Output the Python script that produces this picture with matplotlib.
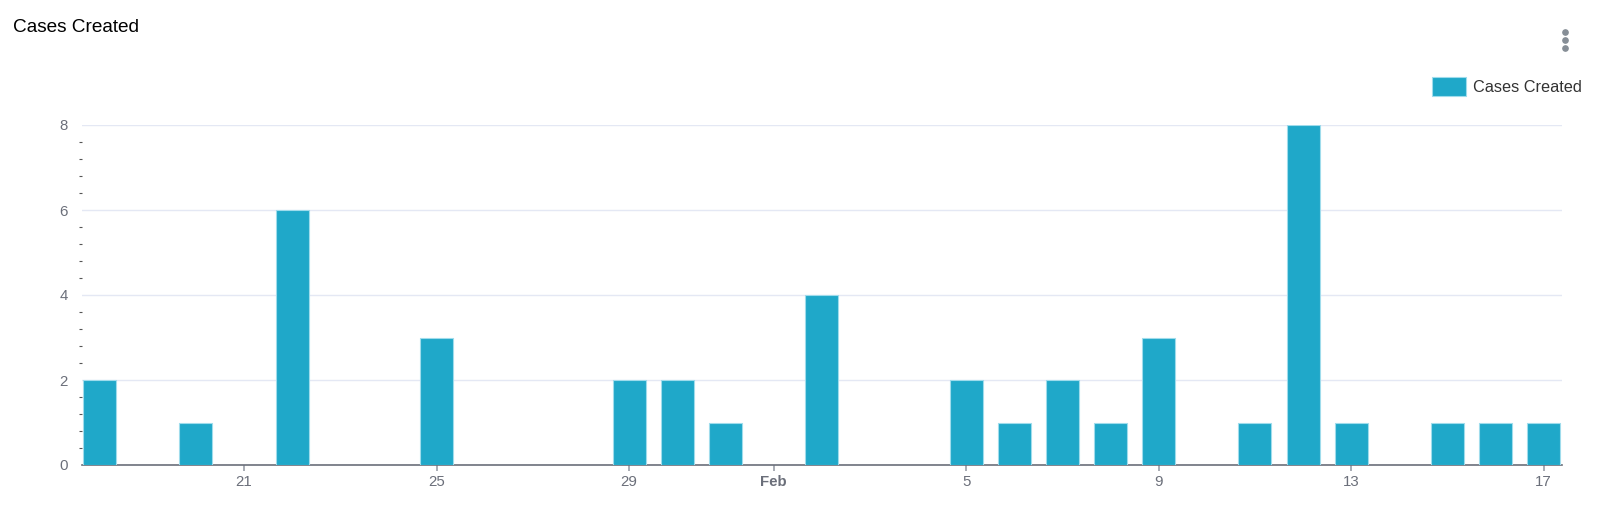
import numpy as np
import matplotlib
matplotlib.use("Agg")
import matplotlib.pyplot as plt
import matplotlib.dates as mdates
from matplotlib.lines import Line2D
from matplotlib.patches import FancyBboxPatch
from matplotlib.legend_handler import HandlerPatch
from matplotlib.ticker import MultipleLocator
import datetime as dt

# Datele graficului
zile = ["2024-01-18", "2024-01-20", "2024-01-22", "2024-01-25", "2024-01-29",
        "2024-01-30", "2024-01-31", "2024-02-02", "2024-02-05", "2024-02-06",
        "2024-02-07", "2024-02-08", "2024-02-09", "2024-02-11", "2024-02-12",
        "2024-02-13", "2024-02-15", "2024-02-16", "2024-02-17"]
cazuri = [2, 1, 6, 3, 2, 2, 1, 4, 2, 1, 2, 1, 3, 1, 8, 1, 1, 1, 1]

etichete_zile = ["2024-01-21", "2024-01-25", "2024-01-29", "2024-02-01",
                 "2024-02-05", "2024-02-09", "2024-02-13", "2024-02-17"]
etichete_text = ["21", "25", "29", "Feb", "5", "9", "13", "17"]

plt.rcParams['font.family'] = ['Liberation Sans', 'DejaVu Sans']

culoare = "#1fa8c9"
gri = "#6b6f7a"

date = [dt.datetime.strptime(z, "%Y-%m-%d") for z in zile]
date_ticks = [dt.datetime.strptime(z, "%Y-%m-%d") for z in etichete_zile]

fig = plt.figure(figsize=(16, 5.21), dpi=100)
ax = fig.add_axes([81.7 / 1600, 1 - 465 / 521, 1480 / 1600, 340 / 521])

latime = 0.686
ax.bar(date, cazuri, width=latime, color=culoare, edgecolor="#9fdcec",
       linewidth=0.8, label="Cases Created", zorder=3)

x0 = mdates.date2num(date[0]) - latime / 2 - 0.03
x1 = mdates.date2num(date[-1]) + latime / 2 + 0.03
ax.set_xlim(x0, x1)
ax.set_ylim(0, 8)

# axa y
ax.yaxis.set_major_locator(MultipleLocator(2))
ax.yaxis.set_minor_locator(MultipleLocator(0.4))
ax.tick_params(axis="y", which="major", length=0, pad=9.9, labelsize=10.8, labelcolor=gri)
ax.tick_params(axis="y", which="minor", length=2.2, width=0.8, color="#555555", pad=0)
ax.grid(axis="y", which="major", color="#e4e8f4", linewidth=1, zorder=0)

# axa x
ax.set_xticks(mdates.date2num(date_ticks))
ax.set_xticklabels(etichete_text)
ax.tick_params(axis="x", length=4.3, width=1.2, color="#9a9ea8", labelsize=10.8,
               labelcolor=gri, pad=3)
for t in ax.get_xticklabels():
    if t.get_text() == "Feb":
        t.set_fontweight("bold")

for s in ["top", "right", "left"]:
    ax.spines[s].set_visible(False)
ax.spines["bottom"].set_color(gri)
ax.spines["bottom"].set_linewidth(1.2)

# titlu
fig.text(13 / 1600, 1 - 27.5 / 521, "Cases Created", fontsize=13.7, color="black",
         va="center", ha="left")


# legenda cu patrat rotunjit
def patrat_rotunjit(legend, orig_handle, xdescent, ydescent, width, height, fontsize):
    r = 3
    return FancyBboxPatch((-xdescent + r, -ydescent + r), width - 2 * r, height - 2 * r,
                          boxstyle=f"round,pad={r}")


leg = ax.legend(loc="center left", bbox_to_anchor=(1417.5 / 1600, 1 - 86.5 / 521),
                bbox_transform=fig.transFigure, frameon=False, fontsize=11.7,
                handlelength=2.09, handleheight=1.42, handletextpad=0.43,
                handler_map={matplotlib.patches.Rectangle: HandlerPatch(patch_func=patrat_rotunjit)})
for t in leg.get_texts():
    t.set_color("#333333")

# meniu cu trei puncte
fig.add_artist(Line2D([1565 / 1600] * 3, [1 - 32 / 521, 1 - 40 / 521, 1 - 48 / 521],
                      marker="o", markersize=3.8, linestyle="none", color="#868e96",
                      transform=fig.transFigure))

fig.savefig("out.png", dpi=100)
